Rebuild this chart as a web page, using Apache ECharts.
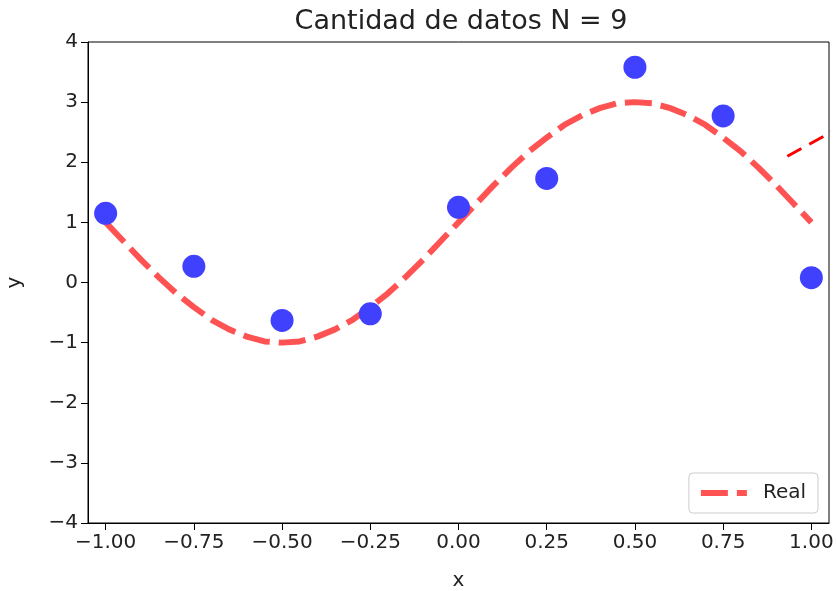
<!DOCTYPE html>
<html><head><meta charset="utf-8">
<script src="https://cdn.jsdelivr.net/npm/echarts@6/dist/echarts.min.js"></script>
<style>html,body{margin:0;padding:0;background:#fff}#c{width:836px;height:591px}</style>
</head><body><div id="c"></div>
<script>
const titleText = 'Cantidad de datos N = 9';
const xTicks = [-1, -0.75, -0.5, -0.25, 0, 0.25, 0.5, 0.75, 1];
const yTicks = [-4, -3, -2, -1, 0, 1, 2, 3, 4];
const dataX = [-1, -0.75, -0.5, -0.25, 0, 0.25, 0.5, 0.75, 1];
const dataY = [1.15, 0.27, -0.63, -0.52, 1.25, 1.73, 3.58, 2.77, 0.08];
const realX = [-1,-0.95,-0.9,-0.85,-0.8,-0.75,-0.7,-0.65,-0.6,-0.55,-0.5,-0.45,-0.4,-0.35,-0.3,-0.25,-0.2,-0.15,-0.1,-0.05,0,0.05,0.1,0.15,0.2,0.25,0.3,0.35,0.4,0.45,0.5,0.55,0.6,0.65,0.7,0.75,0.8,0.85,0.9,0.95,1];
const realY = [1.00,0.69,0.38,0.09,-0.18,-0.41,-0.62,-0.78,-0.90,-0.98,-1.00,-0.98,-0.90,-0.78,-0.62,-0.41,-0.18,0.09,0.38,0.69,1.00,1.31,1.62,1.91,2.18,2.41,2.62,2.78,2.90,2.98,3.00,2.98,2.90,2.78,2.62,2.41,2.18,1.91,1.62,1.31,1.00];
const fitX = [0.932, 1.10];
const fitY = [2.10, 2.64];

const fmt = (v, d) => v.toFixed(d).replace('-', '\u2212');
const font = 'DejaVu Sans';
const chart = echarts.init(document.getElementById('c'));
chart.setOption({
  animation: false,
  title: { text: titleText, left: 456, top: 3, textAlign: 'center',
    textStyle: { fontFamily: font, fontSize: 27, fontWeight: 'normal', color: '#222' } },
  grid: { left: 88, right: 7, top: 42, bottom: 68, show: true, borderColor: '#000', borderWidth: 1,
    containLabel: false, outerBoundsMode: 'none' },
  legend: { right: 18, bottom: 78, itemWidth: 46, itemHeight: 14, padding: [10, 12, 10, 9],
    data: ['Real'],
    lineStyle: { color: 'rgba(255,0,0,0.68)', width: 6, type: [27, 9] },
    itemStyle: { opacity: 0 },
    borderColor: '#ccc', borderWidth: 1, borderRadius: 4, backgroundColor: '#fff',
    textStyle: { fontFamily: font, fontSize: 20, color: '#222', padding: [0, 0, 0, 11] } },
  xAxis: { type: 'value', min: -1.05, max: 1.05, name: 'x', nameLocation: 'middle', nameGap: 48,
    nameTextStyle: { fontFamily: font, fontSize: 20, color: '#222' },
    axisLine: { show: true, onZero: false, lineStyle: { color: '#000' } },
    axisTick: { show: true, length: 7, lineStyle: { color: '#000' }, customValues: xTicks },
    axisLabel: { fontFamily: font, fontSize: 20, color: '#222', margin: 10, customValues: xTicks, formatter: v => fmt(v, 2) },
    splitLine: { show: false } },
  yAxis: { type: 'value', min: -4, max: 4, interval: 1, name: 'y', nameLocation: 'middle', nameGap: 63,
    nameTextStyle: { fontFamily: font, fontSize: 20, color: '#222' },
    axisLine: { show: true, onZero: false, lineStyle: { color: '#000' } },
    axisTick: { show: true, length: 7, lineStyle: { color: '#000' }, customValues: yTicks },
    axisLabel: { fontFamily: font, fontSize: 20, color: '#222', margin: 10, customValues: yTicks, formatter: v => fmt(v, 0) },
    splitLine: { show: false } },
  series: [
    { name: 'Real', type: 'line', data: realX.map((x, i) => [x, realY[i]]), showSymbol: false, symbol: 'none', smooth: false,
      lineStyle: { color: 'rgba(255,0,0,0.68)', width: 6, type: [27, 9] }, itemStyle: { color: 'rgba(255,0,0,0.68)' }, z: 2 },
    { name: 'Ajuste', type: 'line', data: fitX.map((x, i) => [x, fitY[i]]), showSymbol: false, symbol: 'none', clip: true,
      lineStyle: { color: '#ff0000', width: 3, type: [16, 9] }, z: 3 },
    { name: 'Datos', type: 'scatter', data: dataX.map((x, i) => [x, dataY[i]]), symbolSize: 23,
      itemStyle: { color: '#4040ff', opacity: 1 }, z: 4 }
  ]
});
</script></body></html>
